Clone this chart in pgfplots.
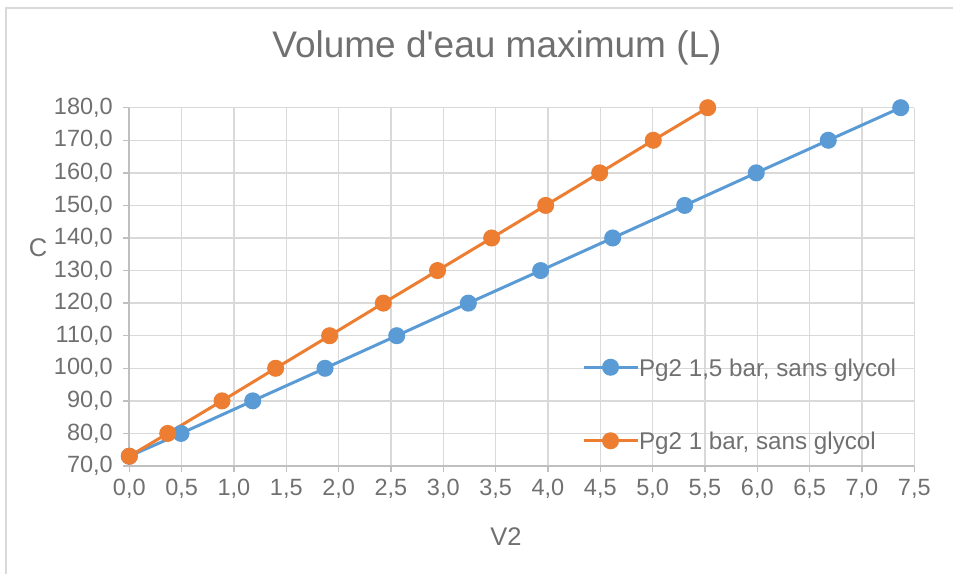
\documentclass[border=0pt]{standalone}
\usepackage{pgfplots}
\pgfplotsset{compat=1.18}
\usepackage{fontspec}
\setmainfont{Liberation Sans}
\definecolor{txt}{HTML}{707070}
\definecolor{gridc}{HTML}{D9D9D9}
\definecolor{axc}{HTML}{BFBFBF}
\definecolor{sblue}{HTML}{5B9BD5}
\definecolor{sorange}{HTML}{ED7D31}
\begin{document}
\begin{tikzpicture}[x=1pt,y=1pt]
\path[use as bounding box] (0,0) rectangle (953,574);
\draw[gridc,line width=1.5pt] (6,0) -- (6,566) -- (953,566);
\begin{axis}[
  at={(129.3pt,108pt)}, anchor=south west,
  scale only axis, width=785pt, height=358.3pt,
  xmin=0, xmax=7.5, ymin=70, ymax=180,
  xtick distance=0.5, ytick distance=10,
  axis x line*=bottom, axis y line*=left,
  axis line style={axc, line width=2pt, -},
  grid=major,
  major grid style={gridc, line width=1.5pt},
  tick align=outside, major tick length=6pt,
  tick style={axc, line width=1.5pt},
  tick label style={font=\fontsize{23.5}{27}\selectfont, text=txt},
  xticklabel style={yshift=-4pt},
  yticklabel style={xshift=-7pt},
  /pgf/number format/.cd, assume math mode=true, use comma, fixed, fixed zerofill, precision=1,
  /pgfplots/.cd,
  legend style={at={(0.5765,0.173)}, anchor=west, draw=none, fill=none,
    inner sep=0pt, row sep=56pt,
    font=\fontsize{24.2}{28}\selectfont, text=txt,
    nodes={inner sep=0pt, text depth=0pt},
    /tikz/every even column/.append style={column sep=7pt}},
  legend cell align=left,
  legend image code/.code={\draw[mark repeat=2,mark phase=2,#1] plot coordinates {(0pt,0pt) (27pt,0pt) (54pt,0pt)};},
]
\addplot[sblue, line width=3pt, mark=*, mark size=7pt, mark options={solid}] coordinates {
(0,73) (0.494,80) (1.179,90) (1.870,100) (2.555,110) (3.239,120) (3.930,130) (4.618,140) (5.306,150) (5.99,160) (6.678,170) (7.37,180)};
\addlegendentry{Pg2 1,5 bar, sans glycol}
\addplot[sorange, line width=3pt, mark=*, mark size=7pt, mark options={solid}] coordinates {
(0,73) (0.367,80) (0.886,90) (1.398,100) (1.914,110) (2.427,120) (2.945,130) (3.462,140) (3.978,150) (4.494,160) (5.006,170) (5.526,180)};
\addlegendentry{Pg2 1 bar, sans glycol}
\end{axis}
\node[anchor=base, text=txt, font=\fontsize{37}{44}\selectfont] at (497,516) {Volume d\textquotesingle eau maximum (L)};
\node[anchor=center, text=txt, font=\fontsize{25.5}{30}\selectfont] at (38,326) {C};
\node[anchor=base, text=txt, font=\fontsize{25.5}{30}\selectfont] at (506,29) {V2};
\end{tikzpicture}
\end{document}
